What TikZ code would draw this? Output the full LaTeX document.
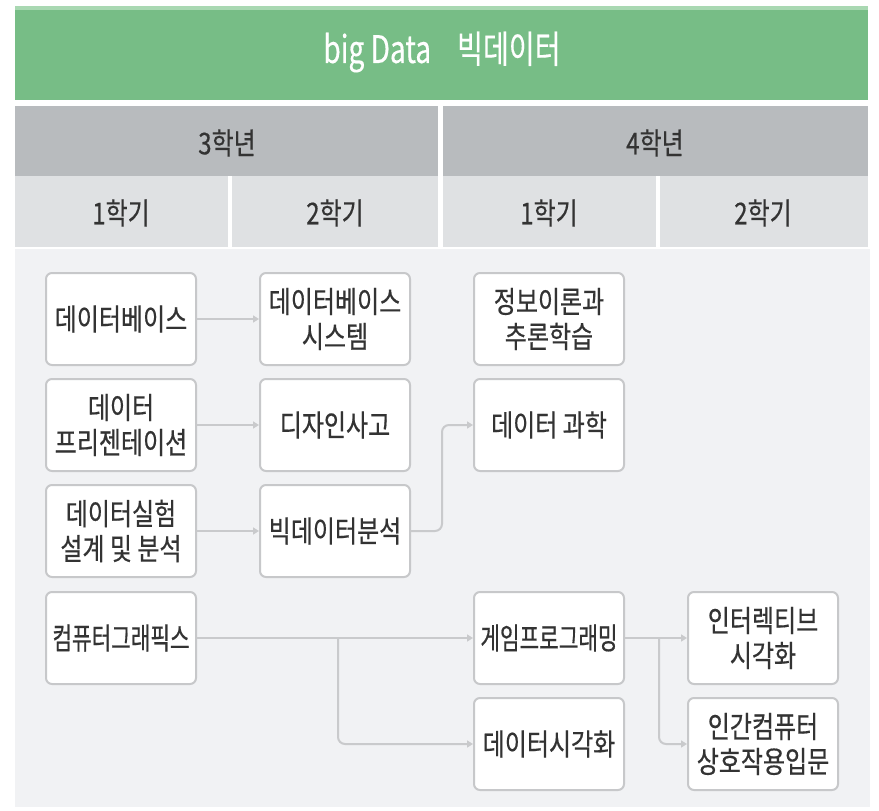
\documentclass[tikz,border=0pt]{standalone}
\usepackage{fontspec}
\setmainfont[FakeStretch=0.8, FakeBold=0.5]{Noto Sans CJK KR}
\newfontfamily\narrowkr[FakeStretch=0.71, FakeBold=0.5]{Noto Sans CJK KR}
\newfontfamily\titlekr[FakeStretch=0.74, FakeBold=0.3]{Noto Sans CJK KR}
\usetikzlibrary{arrows.meta}

\definecolor{hdgreen}{HTML}{77BD86}
\definecolor{hdgreenlt}{HTML}{A9D8B2}
\definecolor{yeargrey}{HTML}{B8BBBE}
\definecolor{termgrey}{HTML}{DFE1E3}
\definecolor{panelgrey}{HTML}{F1F2F4}
\definecolor{boxline}{HTML}{C7C8CA}
\definecolor{arrline}{HTML}{C9CACC}
\definecolor{txt}{HTML}{333333}

\begin{document}
\begin{tikzpicture}[x=1pt, y=-1pt,
    course/.style={draw=boxline, line width=2pt, rounded corners=6pt, fill=white,
        minimum width=150pt, minimum height=92pt, inner sep=0pt, align=center,
        text=txt, font=\fontsize{30}{35}\selectfont},
    narrow/.style={font=\fontsize{30}{35}\narrowkr},
    head/.style={text=txt, font=\fontsize{30}{36}\selectfont},
    arr/.style={draw=arrline, line width=2pt, -{Triangle[length=6pt, width=7pt]}},
    link/.style={arr, rounded corners=7pt}
]
    \useasboundingbox (0,0) rectangle (879,811);

    % header bands
    \fill[hdgreen] (15,8) rectangle (868,100);
    \fill[hdgreenlt] (15,6) rectangle (868,10);
    \fill[yeargrey] (15,106) rectangle (868,176);
    \fill[termgrey] (15,176) rectangle (868,247);
    \fill[panelgrey] (15,249) rectangle (870,807);
    \fill[white] (438,106) rectangle (443,247);
    \fill[white] (228,176) rectangle (232,247);
    \fill[white] (656,176) rectangle (660,247);

    \node[text=white, font=\fontsize{38}{42}\titlekr] (title) at (442,52) {big Data\hspace{26pt}빅데이터};
    \node[head] (y3) at (227,143) {3학년};
    \node[head] (y4) at (655,143) {4학년};
    \node[head] (t31) at (121,213) {1학기};
    \node[head] (t32) at (335,213) {2학기};
    \node[head] (t41) at (549,213) {1학기};
    \node[head] (t42) at (763,213) {2학기};

    % courses
    \node[course] (db) at (121,319) {데이터베이스};
    \node[course] (dbsys) at (335,319) {데이터베이스\\시스템};
    \node[course] (pres) at (121,425) {데이터\\프리젠테이션};
    \node[course] (design) at (335,425) {디자인사고};
    \node[course] (exp) at (121,531) {데이터실험\\설계 및 분석};
    \node[course] (bda) at (335,531) {빅데이터분석};
    \node[course] (info) at (549,319) {정보이론과\\추론학습};
    \node[course] (dsci) at (549,425) {데이터 과학};
    \node[course, narrow] (cg) at (121,638) {컴퓨터그래픽스};
    \node[course, narrow] (game) at (549,638) {게임프로그래밍};
    \node[course] (vis) at (549,744) {데이터시각화};
    \node[course] (ivis) at (763,638) {인터렉티브\\시각화};
    \node[course] (hci) at (763,744) {인간컴퓨터\\상호작용입문};

    % connectors
    \draw[arr] (db) -- (dbsys);
    \draw[arr] (pres) -- (design);
    \draw[arr] (exp) -- (bda);
    \draw[link] (bda.east) -- ++(31,0) |- (dsci.west);
    \draw[arr] (cg) -- (game);
    \coordinate (split1) at (338,638);
    \draw[link] (split1) |- (vis.west);
    \draw[arr] (game) -- (ivis);
    \coordinate (split2) at (659,638);
    \draw[link] (split2) |- (hci.west);
\end{tikzpicture}
\end{document}
